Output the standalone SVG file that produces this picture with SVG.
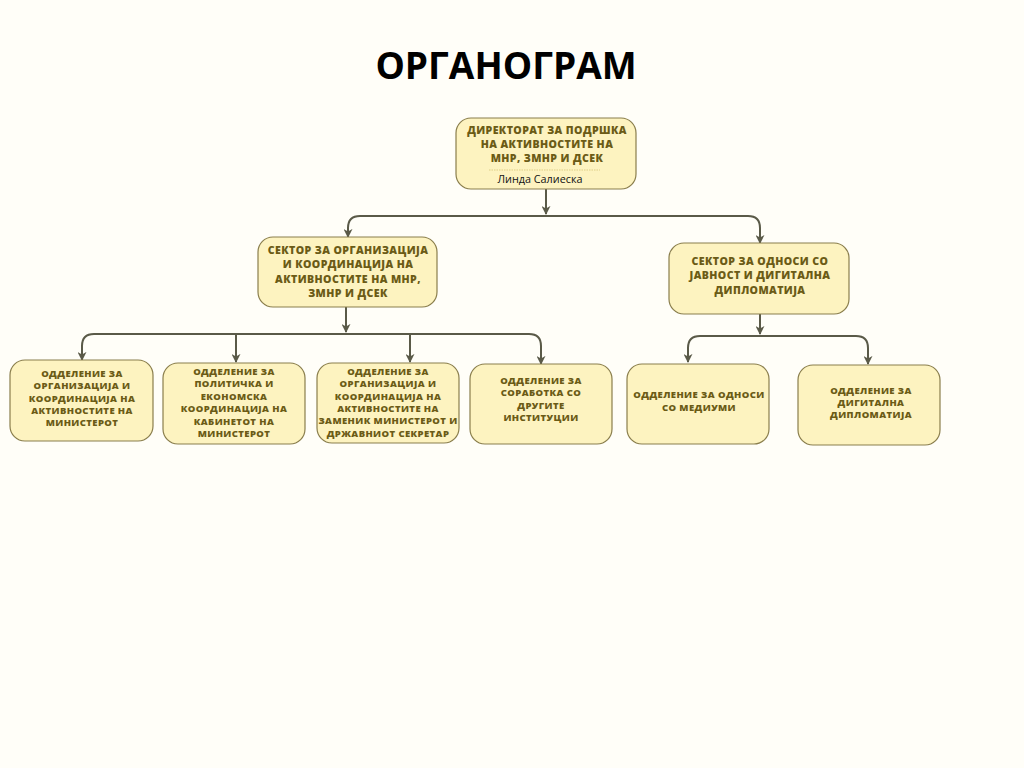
<svg xmlns="http://www.w3.org/2000/svg" width="1024" height="768" viewBox="0 0 1024 768">
<defs>
<style>
.bg{fill:#fffef8}
.node{fill:#fdf3c0;stroke:#8a7e4c;stroke-width:1.2}
.t{font-family:"Open Sans","DejaVu Sans",sans-serif;font-weight:800;font-size:9.5px;fill:#6b5b16;text-anchor:middle;letter-spacing:0.4px}
.ts{font-size:10.6px}
.title{font-family:"Open Sans","DejaVu Sans",sans-serif;font-weight:700;font-size:37px;fill:#000;text-anchor:middle}
.name{font-family:"Open Sans","DejaVu Sans",sans-serif;font-size:10.8px;fill:#111;text-anchor:middle}
.conn{fill:none;stroke:#5a5a48;stroke-width:2}
</style>
<marker id="ah" viewBox="0 0 10 10" refX="9" refY="5" markerWidth="4.5" markerHeight="4.5" orient="auto" markerUnits="strokeWidth">
<path d="M0,0 L10,5 L0,10 L3,5 Z" fill="#5a5a48"/>
</marker>
</defs>
<rect class="bg" x="0" y="0" width="1024" height="768"/>
<text class="title" x="506" y="79">ОРГАНОГРАМ</text>

<g id="connectors">
<path class="conn" d="M546,189 V214" marker-end="url(#ah)"/>
<path class="conn" d="M348,228 Q348,216 360,216 H748 Q760,216 760,228 V243" marker-end="url(#ah)"/>
<path class="conn" d="M348,227 V237" marker-end="url(#ah)"/>
<path class="conn" d="M346,307 V332" marker-end="url(#ah)"/>
<path class="conn" d="M82,346 Q82,334 94,334 H529 Q541,334 541,346 V364" marker-end="url(#ah)"/>
<path class="conn" d="M82,345 V360" marker-end="url(#ah)"/>
<path class="conn" d="M236,334 V362" marker-end="url(#ah)"/>
<path class="conn" d="M410,334 V362" marker-end="url(#ah)"/>
<path class="conn" d="M760,314 V334" marker-end="url(#ah)"/>
<path class="conn" d="M688,348 Q688,336 700,336 H856 Q868,336 868,348 V364" marker-end="url(#ah)"/>
<path class="conn" d="M688,347 V362" marker-end="url(#ah)"/>
</g>

<g id="n-direktorat">
<rect class="node" x="456" y="118" width="180" height="71" rx="15"/>
<text class="t ts" x="547" y="134">ДИРЕКТОРАТ ЗА ПОДРШКА</text>
<text class="t ts" x="547" y="148">НА АКТИВНОСТИТЕ НА</text>
<text class="t ts" x="547" y="162">МНР, ЗМНР И ДСЕК</text>
<line x1="489" y1="170" x2="600" y2="170" stroke="#c9b860" stroke-width="0.6" stroke-dasharray="1.5,1"/>
<text class="name" x="540" y="183">Линда Салиеска</text>
</g>

<g id="n-sektor1">
<rect class="node" x="258" y="237" width="179" height="70" rx="15"/>
<text class="t ts" x="348" y="254">СЕКТОР ЗА ОРГАНИЗАЦИЈА</text>
<text class="t ts" x="348" y="268">И КООРДИНАЦИЈА НА</text>
<text class="t ts" x="348" y="283">АКТИВНОСТИТЕ НА МНР,</text>
<text class="t ts" x="348" y="297">ЗМНР И ДСЕК</text>
</g>

<g id="n-sektor2">
<rect class="node" x="669" y="243" width="180" height="71" rx="15"/>
<text class="t ts" x="760" y="265">СЕКТОР ЗА ОДНОСИ СО</text>
<text class="t ts" x="760" y="279">ЈАВНОСТ И ДИГИТАЛНА</text>
<text class="t ts" x="760" y="294">ДИПЛОМАТИЈА</text>
</g>

<g id="n-odd1">
<rect class="node" x="10" y="360" width="143" height="81" rx="15"/>
<text class="t" x="82" y="377">ОДДЕЛЕНИЕ ЗА</text>
<text class="t" x="82" y="389">ОРГАНИЗАЦИЈА И</text>
<text class="t" x="82" y="402">КООРДИНАЦИЈА НА</text>
<text class="t" x="82" y="414">АКТИВНОСТИТЕ НА</text>
<text class="t" x="82" y="426">МИНИСТЕРОТ</text>
</g>

<g id="n-odd2">
<rect class="node" x="163" y="363" width="142" height="81" rx="15"/>
<text class="t" x="234" y="375">ОДДЕЛЕНИЕ ЗА</text>
<text class="t" x="234" y="387">ПОЛИТИЧКА И</text>
<text class="t" x="234" y="400">ЕКОНОМСКА</text>
<text class="t" x="234" y="412">КООРДИНАЦИЈА НА</text>
<text class="t" x="234" y="425">КАБИНЕТОТ НА</text>
<text class="t" x="234" y="437">МИНИСТЕРОТ</text>
</g>

<g id="n-odd3">
<rect class="node" x="317" y="363" width="142" height="80" rx="15"/>
<text class="t" x="388" y="375">ОДДЕЛЕНИЕ ЗА</text>
<text class="t" x="388" y="387">ОРГАНИЗАЦИЈА И</text>
<text class="t" x="388" y="400">КООРДИНАЦИЈА НА</text>
<text class="t" x="388" y="412">АКТИВНОСТИТЕ НА</text>
<text class="t" x="388" y="424" letter-spacing="0.1">ЗАМЕНИК МИНИСТЕРОТ И</text>
<text class="t" x="388" y="437">ДРЖАВНИОТ СЕКРЕТАР</text>
</g>

<g id="n-odd4">
<rect class="node" x="470" y="364" width="142" height="80" rx="15"/>
<text class="t" x="541" y="384">ОДДЕЛЕНИЕ ЗА</text>
<text class="t" x="541" y="396">СОРАБОТКА СО</text>
<text class="t" x="541" y="409">ДРУГИТЕ</text>
<text class="t" x="541" y="421">ИНСТИТУЦИИ</text>
</g>

<g id="n-odd5">
<rect class="node" x="627" y="364" width="142" height="80" rx="15"/>
<text class="t" x="699" y="398">ОДДЕЛЕНИЕ ЗА ОДНОСИ</text>
<text class="t" x="699" y="411">СО МЕДИУМИ</text>
</g>

<g id="n-odd6">
<rect class="node" x="798" y="365" width="142" height="80" rx="15"/>
<text class="t" x="871" y="394">ОДДЕЛЕНИЕ ЗА</text>
<text class="t" x="871" y="406">ДИГИТАЛНА</text>
<text class="t" x="871" y="418">ДИПЛОМАТИЈА</text>
</g>
</svg>
